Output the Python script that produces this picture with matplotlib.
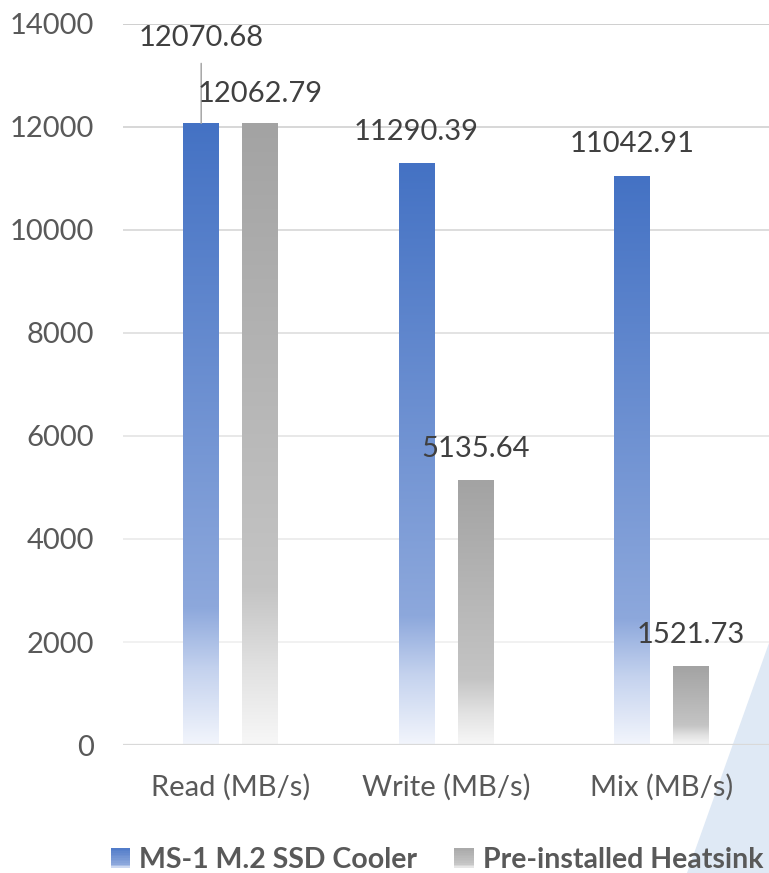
# -*- coding: utf-8 -*-

"""
Output: out.png
SSD sequential speed, MS-1 cooler vs stock heatsink
"""


### 0 ### Imports

import numpy as np
import matplotlib
matplotlib.use("Agg")
import matplotlib.pyplot as plt
from matplotlib.colors import LinearSegmentedColormap
from matplotlib.patches import Rectangle, Polygon
from matplotlib.legend_handler import HandlerBase

plt.rcParams['font.family'] = ['Lato', 'DejaVu Sans']
plt.rcParams['font.size'] = 21

# data
categories = ["Read (MB/s)", "Write (MB/s)", "Mix (MB/s)"]
series_names = ["MS-1 M.2 SSD Cooler", "Pre-installed Heatsink"]
cooler = [12070.68, 11290.39, 11042.91]
heatsink = [12062.79, 5135.64, 1521.73]
yticks = [0, 2000, 4000, 6000, 8000, 10000, 12000, 14000]


### 1 ### Gradients

# colour runs from the top of a bar (0) down to its base (1)
blue_cmap = LinearSegmentedColormap.from_list(
    "blue_fade", [(0.0, "#4472c4"), (0.78, "#8da8dc"), (0.88, "#c4d2ee"), (1.0, "#f2f5fc")])
grey_cmap = LinearSegmentedColormap.from_list(
    "grey_fade", [(0.0, "#a3a3a3"), (0.75, "#c4c4c4"), (0.88, "#e2e2e2"), (1.0, "#f7f7f7")])


def gradient_bar(ax, x, width, height, cmap):
    grad = np.linspace(0, 1, 256).reshape(-1, 1)
    ax.imshow(grad, cmap=cmap, extent=(x - width / 2, x + width / 2, 0, height),
              aspect="auto", origin="upper", zorder=2, interpolation="bilinear")


class GradientHandler(HandlerBase):
    def __init__(self, cmap):
        super().__init__()
        self.cmap = cmap

    def create_artists(self, legend, orig_handle, xdescent, ydescent, width, height, fontsize, trans):
        side = height * 1.0
        x0 = -xdescent + (width - side)
        y0 = -ydescent + (height - side) / 2
        n = 12
        strips = []
        for i in range(n):
            c = self.cmap(0.15 + 0.75 * i / (n - 1))
            strips.append(Rectangle((x0, y0 + side - (i + 1) * side / n), side, side / n,
                                    facecolor=c, edgecolor="none", transform=trans))
        return strips


### 2 ### Figure

fig = plt.figure(figsize=(7.69, 8.73), dpi=100)
fig.patch.set_facecolor("white")

# light decorative wedge in the lower right corner
fig.patches.append(Polygon([(1.0, 0.2635), (1.0, 0.0), (0.8934, 0.0)], closed=True,
                           transform=fig.transFigure, facecolor="#dfe9f5",
                           edgecolor="none", zorder=-1))

ax = fig.add_axes([0.16, 0.1466, 0.84, 0.826])
ax.patch.set_alpha(0)

x = np.arange(len(categories))
bar_w = 0.167
offset = 0.137

for xi, v in zip(x, cooler):
    gradient_bar(ax, xi - offset, bar_w, v, blue_cmap)
for xi, v in zip(x, heatsink):
    gradient_bar(ax, xi + offset, bar_w, v, grey_cmap)

ax.set_xlim(-0.5, len(categories) - 0.5)
ax.set_ylim(0, 14000)

# gridlines fade out towards the base
grid_cols = ["#f0f0f0", "#ececec", "#e6e6e6", "#e0e0e0", "#dadada", "#d4d4d4", "#cccccc"]
for t, c in zip(yticks[1:], grid_cols):
    ax.axhline(t, color=c, lw=1.3, zorder=1)
ax.axhline(0, color="#d9d9d9", lw=1.6, zorder=3)

for s in ax.spines.values():
    s.set_visible(False)

ax.set_yticks(yticks)
ax.set_yticklabels([str(t) for t in yticks])
ax.set_xticks(x)
ax.set_xticklabels(categories)
ax.tick_params(axis="y", length=0, pad=21, labelcolor="#595959")
ax.tick_params(axis="x", length=0, pad=21, labelcolor="#595959")

# value labels
lab_col = "#404040"
for i, (xi, v) in enumerate(zip(x, cooler)):
    if i == 0:
        # label pulled up, tied to the bar with a leader line
        ax.annotate(f"{v:.2f}", xy=(xi - offset, v), xytext=(xi - offset, 13728),
                    ha="center", va="center", color=lab_col,
                    arrowprops=dict(arrowstyle="-", color="#a6a6a6", lw=1.1,
                                    shrinkA=7, shrinkB=0))
    else:
        ax.annotate(f"{v:.2f}", xy=(xi - offset, v), xytext=(0, 23),
                    textcoords="offset points", ha="center", va="center", color=lab_col)
for i, (xi, v) in enumerate(zip(x, heatsink)):
    if i == 0:
        ax.text(xi + offset, 12641, f"{v:.2f}", ha="center", va="center", color=lab_col)
    else:
        ax.annotate(f"{v:.2f}", xy=(xi + offset, v), xytext=(0, 23),
                    textcoords="offset points", ha="center", va="center", color=lab_col)

# legend
h1 = Rectangle((0, 0), 1, 1)
h2 = Rectangle((0, 0), 1, 1)
leg = fig.legend([h1, h2], series_names, loc="center", bbox_to_anchor=(0.568, 0.0149),
                 ncol=2, frameon=False, handlelength=0.7, handletextpad=0.3,
                 columnspacing=1.3,
                 handler_map={h1: GradientHandler(blue_cmap), h2: GradientHandler(grey_cmap)},
                 prop={"weight": "bold", "size": 20.5})
for t in leg.get_texts():
    t.set_color("#595959")

fig.savefig("out.png", dpi=100)
